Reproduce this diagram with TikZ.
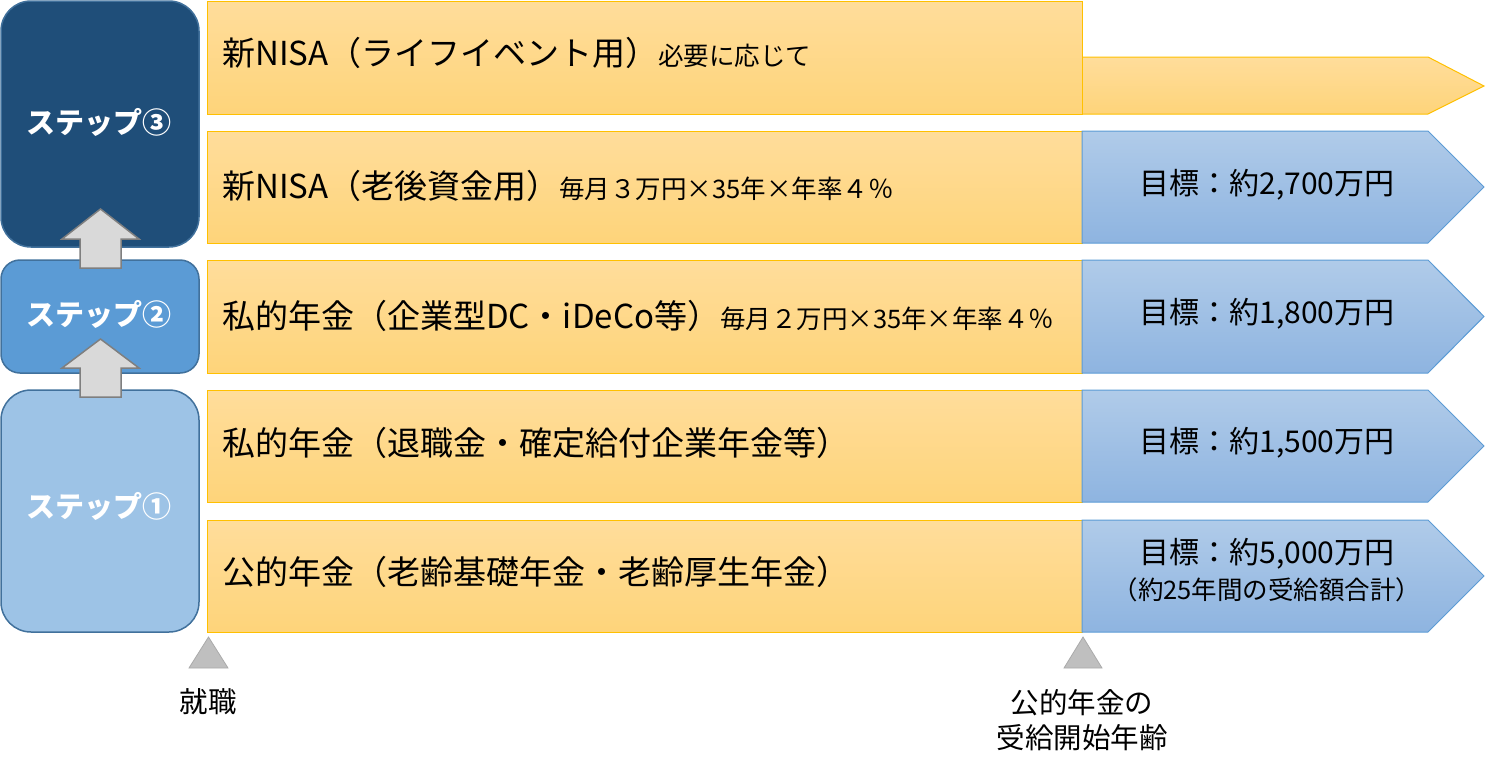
\documentclass[tikz,border=0pt]{standalone}
\usepackage{fontspec}
\setmainfont{Noto Sans CJK JP}
\newcommand\mysmallsz{\fontsize{25.5}{28}\selectfont}
\definecolor{ortop}{RGB}{255,221,155}
\definecolor{orbot}{RGB}{254,212,122}
\definecolor{orline}{RGB}{255,192,0}
\definecolor{bltop}{RGB}{176,203,233}
\definecolor{blbot}{RGB}{142,180,224}
\definecolor{blline}{RGB}{91,155,213}
\definecolor{stepthree}{RGB}{31,78,121}
\definecolor{steptwo}{RGB}{91,155,213}
\definecolor{stepone}{RGB}{157,195,230}
\definecolor{stepline}{RGB}{65,113,156}
\definecolor{uparrowfill}{RGB}{217,217,217}
\definecolor{uparrowline}{RGB}{127,127,127}
\definecolor{trifill}{RGB}{191,191,191}
\definecolor{triline}{RGB}{170,170,170}
\begin{document}
\begin{tikzpicture}[x=1pt,y=-1pt,
  orangebar/.style={draw=orline, line width=1pt, top color=ortop, bottom color=orbot},
  bluebar/.style={draw=blline, line width=1pt, top color=bltop, bottom color=blbot},
  stepbox/.style={draw=stepline, line width=1.5pt},
  uparrow/.style={fill=uparrowfill, draw=uparrowline, line width=1.5pt},
  marker/.style={fill=trifill, draw=triline, line width=0.8pt},
  bigtxt/.style={anchor=base west, inner sep=0pt, font=\fontsize{33}{36}\selectfont},
  goaltxt/.style={inner sep=0pt, align=center, font=\fontsize{30}{34}\selectfont},
  steptxt/.style={inner sep=0pt, text=white, font=\fontsize{29}{34}\selectfont\bfseries},
  labeltxt/.style={inner sep=0pt, align=center, font=\fontsize{28.5}{35}\selectfont}]
\useasboundingbox (0,0) rectangle (1486,777);
% step boxes
\draw[stepbox, fill=stepthree, rounded corners=30pt] (1,1) rectangle (199,247);
\draw[stepbox, fill=steptwo, rounded corners=19pt] (1,260) rectangle (199,373);
\draw[stepbox, fill=stepone, rounded corners=30pt] (1,390) rectangle (199,632);
\node[steptxt] (s3) at (99,122) {ステップ③};
\node[steptxt] (s2) at (99,314) {ステップ②};
\node[steptxt] (s1) at (99,506) {ステップ①};
% up arrows
\draw[uparrow] (80,268) -- (80,239) -- (62,239) -- (100.5,209) -- (139,239) -- (121,239) -- (121,268) -- cycle;
\draw[uparrow] (80,397) -- (80,368) -- (62,368) -- (100.5,339) -- (139,368) -- (121,368) -- (121,397) -- cycle;
% row 1
\draw[orangebar] (1082,57) -- (1428,57) -- (1484,86) -- (1428,114) -- (1082,114) -- cycle;
\draw[orangebar] (207,1) rectangle (1082,114);
% row 2
\draw[orangebar] (207,131) rectangle (1082,243);
\draw[bluebar] (1082,131) -- (1428,131) -- (1484,187) -- (1428,243) -- (1082,243) -- cycle;
% row 3
\draw[orangebar] (207,260) rectangle (1082,373);
\draw[bluebar] (1082,260) -- (1428,260) -- (1484,316.5) -- (1428,373) -- (1082,373) -- cycle;
% row 4
\draw[orangebar] (207,390) rectangle (1082,502);
\draw[bluebar] (1082,390) -- (1428,390) -- (1484,446) -- (1428,502) -- (1082,502) -- cycle;
% row 5
\draw[orangebar] (207,520) rectangle (1082,632);
\draw[bluebar] (1082,520) -- (1428,520) -- (1484,576) -- (1428,632) -- (1082,632) -- cycle;
% texts in bars
\node[bigtxt] (t1) at (222,65) {新NISA（ライフイベント用）{\mysmallsz 必要に応じて}};
\node[bigtxt] (t2) at (222,198) {新NISA（老後資金用）{\mysmallsz 毎月３万円×35年×年率４％}};
\node[bigtxt] (t3) at (222,328) {私的年金（企業型DC・iDeCo等）{\mysmallsz 毎月２万円×35年×年率４％}};
\node[bigtxt] (t4) at (222,455) {私的年金（退職金・確定給付企業年金等）};
\node[bigtxt] (t5) at (222,584) {公的年金（老齢基礎年金・老齢厚生年金）};
\node[goaltxt] (g2) at (1267,185) {目標：約2,700万円};
\node[goaltxt] (g3) at (1267,314) {目標：約1,800万円};
\node[goaltxt] (g4) at (1267,443) {目標：約1,500万円};
\node[goaltxt] (g5) at (1267,554) {目標：約5,000万円};
\node[goaltxt, font=\mysmallsz] (g5b) at (1267,590) {（約25年間の受給額合計）};
% markers
\draw[marker] (189,668) -- (208.5,637) -- (228,668) -- cycle;
\draw[marker] (1064,668) -- (1083,637) -- (1102,668) -- cycle;
\node[labeltxt] (l1) at (208,702) {就職};
\node[labeltxt] (l2) at (1082,720) {公的年金の\\受給開始年齢};
\end{tikzpicture}
\end{document}
